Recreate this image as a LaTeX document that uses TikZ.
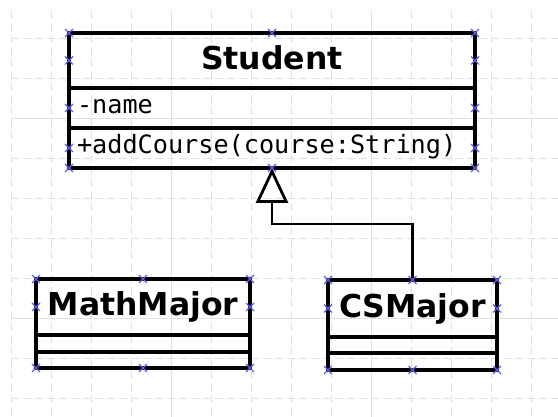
\documentclass[tikz,border=0pt]{standalone}
\usepackage{fontspec}
\usepackage{xcolor}
\usepackage{tikz}
\usetikzlibrary{positioning}
\usetikzlibrary{arrows.meta}

\newfontfamily\titlefont{DejaVu Sans}
\newfontfamily\memberfont{DejaVu Sans Mono}
\definecolor{gridcol}{RGB}{214,228,228}
\definecolor{handlecol}{RGB}{95,95,235}

\tikzset{
  classtitle/.style={draw,line width=3.6pt,outer sep=0pt,inner sep=0pt,anchor=north,
    text height=24pt,text depth=6pt,font=\titlefont\bfseries\fontsize{31.5}{36}\selectfont},
  classrow/.style={draw,line width=3.6pt,outer sep=0pt,inner xsep=8pt,inner ysep=0pt},
  memberrow/.style={classrow,align=left,text height=18pt,text depth=6pt,
    font=\memberfont\fontsize{25.2}{30}\selectfont},
  gridminor/.style={gridcol,line width=1pt,dash pattern=on 8pt off 4pt},
  selmark/.pic={\draw[handlecol,line width=1.2pt] (-4pt,-4pt) -- (4pt,4pt) (-4pt,4pt) -- (4pt,-4pt);}
}

\begin{document}
\begin{tikzpicture}[x=1pt,y=-1pt]
\useasboundingbox (0,0) rectangle (558,417);
\fill[white] (0,0) rectangle (558,417);
% background grid
\foreach \x in {11,51,...,531} \draw[gridminor] (\x,11) -- (\x,417);
\foreach \y in {39,79,...,399} \draw[gridminor] (11,\y) -- (558,\y);
\draw[gridcol,line width=1pt] (171,11) -- (171,417) (371,11) -- (371,417) (11,119) -- (558,119) (11,319) -- (558,319);

% superclass
\node[classtitle,minimum width=406pt,minimum height=55pt] (st) at (272,33) {Student};
\node[memberrow,text width=390pt,minimum height=40pt,below=0pt of st] (stattr) {-name};
\node[memberrow,text width=390pt,minimum height=40pt,below=0pt of stattr] (stmeth) {+addCourse(course:String)};

% subclasses
\node[classtitle,minimum width=214pt,minimum height=56pt] (mm) at (143,279) {MathMajor};
\node[classrow,minimum width=214pt,minimum height=17pt,below=0pt of mm] (mmattr) {};
\node[classrow,minimum width=214pt,minimum height=16pt,below=0pt of mmattr] (mmmeth) {};

\node[classtitle,minimum width=169pt,minimum height=57pt] (cs) at (412.5,280) {CSMajor};
\node[classrow,minimum width=169pt,minimum height=16pt,below=0pt of cs] (csattr) {};
\node[classrow,minimum width=169pt,minimum height=17pt,below=0pt of csattr] (csmeth) {};

% inheritance
\coordinate (bend) at (412.5,224);
\draw[line width=2.8pt,-{Triangle[open,length=35pt,width=32pt]}] (cs.north) -- (bend) -| (stmeth.south);

% selection handles
\foreach \p in {st.north west,st.north,st.north east,st.west,st.east,stattr.west,stattr.east,
  stmeth.west,stmeth.east,stmeth.south west,stmeth.south,stmeth.south east}
  \pic at (\p) {selmark};
\foreach \p in {mm.north west,mm.north,mm.north east,mm.west,mm.east,
  mmmeth.south west,mmmeth.south,mmmeth.south east}
  \pic at (\p) {selmark};
\foreach \p in {cs.north west,cs.north,cs.north east,cs.west,cs.east,
  csmeth.south west,csmeth.south,csmeth.south east}
  \pic at (\p) {selmark};
\end{tikzpicture}
\end{document}
